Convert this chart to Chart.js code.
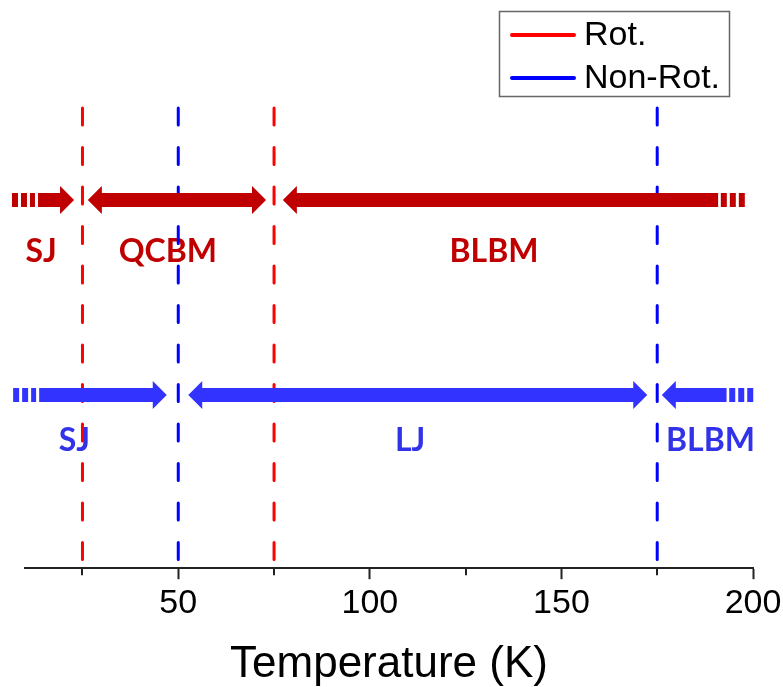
<!DOCTYPE html>
<html>
<head>
<meta charset="utf-8">
<script src="https://cdn.jsdelivr.net/npm/chart.js@4"></script>
<style>
  html, body { margin: 0; padding: 0; background: #fff; }
  #wrap { width: 783px; height: 687px; position: relative; }
</style>
</head>
<body>
<div id="wrap"><canvas id="chart"></canvas></div>
<script>
// Ось температуры
const xMin = 10;
const xMax = 200;
const tickValues = [25, 50, 75, 100, 125, 150, 175, 200];
const majorTicks = [50, 100, 150, 200];

// Границы режимов (пунктирные линии)
const seriesNames = ['Rot.', 'Non-Rot.'];
const rotBounds = [25, 75];
const nonRotBounds = [50, 175];

// Стрелки: острия слева/справа (K) и где наконечник
const rotArrowFrom = [13.4, 26.4, 77.3];
const rotArrowTo = [22.8, 72.9, 190.9];
const rotArrowHeads = ['end', 'both', 'start'];
const rotStubs = [[6.6, 12.6], [191.6, 198.0]];

const nonRotArrowFrom = [13.7, 52.6, 176.2];
const nonRotArrowTo = [47.0, 172.4, 193.1];
const nonRotArrowHeads = ['end', 'both', 'start'];
const nonRotStubs = [[6.9, 12.9], [193.8, 200.2]];

// Подписи режимов
const rotRegimes = ['SJ', 'QCBM', 'BLBM'];
const rotRegimeX = [14.2, 47.3, 132.4];
const nonRotRegimes = ['SJ', 'LJ', 'BLBM'];
const nonRotRegimeX = [22.9, 110.5, 188.9];

// Вертикальное расположение (доля высоты области графика)
const boundTop = 0.81;
const rotRowY = 0.648;
const nonRotRowY = 0.305;
const rotLabelY = 0.539;
const nonRotLabelY = 0.206;

const rotLineColor = '#FF0000';
const nonRotLineColor = '#0000FF';
const rotColor = '#C00000';
const nonRotColor = '#3333FF';
const nonRotTextColor = '#3232E8';

const boundDataset = (xv, color, label) => ({
    label: label,
    data: [{ x: xv, y: boundTop }, { x: xv, y: 0 }],
    showLine: true,
    borderColor: color,
    borderWidth: 3,
    borderDash: [17, 22.5],
    borderCapStyle: 'round',
    pointRadius: 0,
    clip: false
});

const stubDataset = (range, yv, color) => ({
    label: 'stub',
    data: [{ x: range[0], y: yv }, { x: range[1], y: yv }],
    showLine: true,
    borderColor: color,
    borderWidth: 14,
    borderDash: [6, 3],
    borderCapStyle: 'butt',
    pointRadius: 0,
    clip: false
});

const datasets = [
    ...rotBounds.map(v => boundDataset(v, rotLineColor, seriesNames[0])),
    ...nonRotBounds.map(v => boundDataset(v, nonRotLineColor, seriesNames[1])),
    ...rotStubs.map(r => stubDataset(r, rotRowY, rotColor)),
    ...nonRotStubs.map(r => stubDataset(r, nonRotRowY, nonRotColor))
];

function drawArrow(ctx, x1, x2, yc, heads) {
    const h = 7, H = 14, L = 14;
    const s = heads === 'start' || heads === 'both';
    const e = heads === 'end' || heads === 'both';
    ctx.beginPath();
    if (s) {
        ctx.moveTo(x1, yc);
        ctx.lineTo(x1 + L, yc - H);
        ctx.lineTo(x1 + L, yc - h);
    } else {
        ctx.moveTo(x1, yc - h);
    }
    if (e) {
        ctx.lineTo(x2 - L, yc - h);
        ctx.lineTo(x2 - L, yc - H);
        ctx.lineTo(x2, yc);
        ctx.lineTo(x2 - L, yc + H);
        ctx.lineTo(x2 - L, yc + h);
    } else {
        ctx.lineTo(x2, yc - h);
        ctx.lineTo(x2, yc + h);
    }
    if (s) {
        ctx.lineTo(x1 + L, yc + h);
        ctx.lineTo(x1 + L, yc + H);
    } else {
        ctx.lineTo(x1, yc + h);
    }
    ctx.closePath();
    ctx.fill();
}

const regimePlugin = {
    id: 'regimes',
    beforeDatasetsDraw(chart) {
        const { ctx, scales: { x, y } } = chart;
        ctx.save();
        ctx.font = 'bold 32px Lato, "Open Sans", sans-serif';
        ctx.textAlign = 'center';
        ctx.textBaseline = 'alphabetic';
        ctx.fillStyle = rotColor;
        rotRegimes.forEach((t, i) => {
            ctx.fillText(t, x.getPixelForValue(rotRegimeX[i]), y.getPixelForValue(rotLabelY));
        });
        ctx.fillStyle = nonRotTextColor;
        nonRotRegimes.forEach((t, i) => {
            ctx.fillText(t, x.getPixelForValue(nonRotRegimeX[i]), y.getPixelForValue(nonRotLabelY));
        });
        ctx.restore();
    },
    afterDatasetsDraw(chart) {
        const { ctx, scales: { x, y } } = chart;
        ctx.save();
        ctx.fillStyle = rotColor;
        rotArrowFrom.forEach((f, i) => {
            drawArrow(ctx, x.getPixelForValue(f), x.getPixelForValue(rotArrowTo[i]),
                y.getPixelForValue(rotRowY), rotArrowHeads[i]);
        });
        ctx.fillStyle = nonRotColor;
        nonRotArrowFrom.forEach((f, i) => {
            drawArrow(ctx, x.getPixelForValue(f), x.getPixelForValue(nonRotArrowTo[i]),
                y.getPixelForValue(nonRotRowY), nonRotArrowHeads[i]);
        });
        ctx.restore();
    },
    afterDraw(chart) {
        const { ctx, scales: { x } } = chart;
        ctx.save();
        // малые засечки
        ctx.strokeStyle = '#222';
        ctx.lineWidth = 2;
        tickValues.filter(v => !majorTicks.includes(v)).forEach(v => {
            const px = Math.round(x.getPixelForValue(v));
            ctx.beginPath();
            ctx.moveTo(px, x.top);
            ctx.lineTo(px, x.top + 7);
            ctx.stroke();
        });
        // легенда
        ctx.strokeStyle = '#666';
        ctx.lineWidth = 1.5;
        ctx.strokeRect(499.5, 11.5, 230, 85);
        const legendColors = [rotLineColor, nonRotLineColor];
        const legendY = [35, 78];
        ctx.lineCap = 'round';
        ctx.font = '34px Arial, "Liberation Sans", sans-serif';
        ctx.textAlign = 'left';
        ctx.textBaseline = 'middle';
        seriesNames.forEach((name, i) => {
            ctx.strokeStyle = legendColors[i];
            ctx.lineWidth = 4;
            ctx.beginPath();
            ctx.moveTo(512, legendY[i]);
            ctx.lineTo(574, legendY[i]);
            ctx.stroke();
            ctx.fillStyle = '#000';
            ctx.fillText(name, 584, legendY[i] + 1);
        });
        ctx.restore();
    }
};

new Chart(document.getElementById('chart'), {
    type: 'scatter',
    data: { datasets: datasets },
    options: {
        responsive: true,
        maintainAspectRatio: false,
        animation: false,
        layout: { padding: { left: 25, right: 30, top: 0, bottom: 0 } },
        plugins: {
            legend: { display: false },
            tooltip: { enabled: false }
        },
        scales: {
            x: {
                type: 'linear',
                min: xMin,
                max: xMax,
                afterBuildTicks: (scale) => {
                    scale.ticks = tickValues.map(v => ({ value: v }));
                },
                afterFit: (scale) => {
                    scale.paddingLeft = 0;
                    scale.paddingRight = 0;
                },
                ticks: {
                    autoSkip: false,
                    maxRotation: 0,
                    padding: 4,
                    color: '#000',
                    font: { family: 'Arial, "Liberation Sans", sans-serif', size: 34 },
                    callback: (v) => majorTicks.includes(v) ? String(v) : ''
                },
                grid: {
                    drawOnChartArea: false,
                    drawTicks: true,
                    tickLength: 11,
                    tickWidth: 2,
                    tickColor: (c) => (c.tick && majorTicks.includes(c.tick.value)) ? '#222' : 'rgba(0,0,0,0)'
                },
                border: { display: true, color: '#222', width: 2 },
                title: {
                    display: true,
                    text: 'Temperature (K)',
                    color: '#000',
                    font: { family: 'Arial, "Liberation Sans", sans-serif', size: 44, lineHeight: 1.0 },
                    padding: { top: 15, bottom: 0 }
                }
            },
            y: {
                type: 'linear',
                display: false,
                min: 0,
                max: 1
            }
        }
    },
    plugins: [regimePlugin]
});
</script>
</body>
</html>
